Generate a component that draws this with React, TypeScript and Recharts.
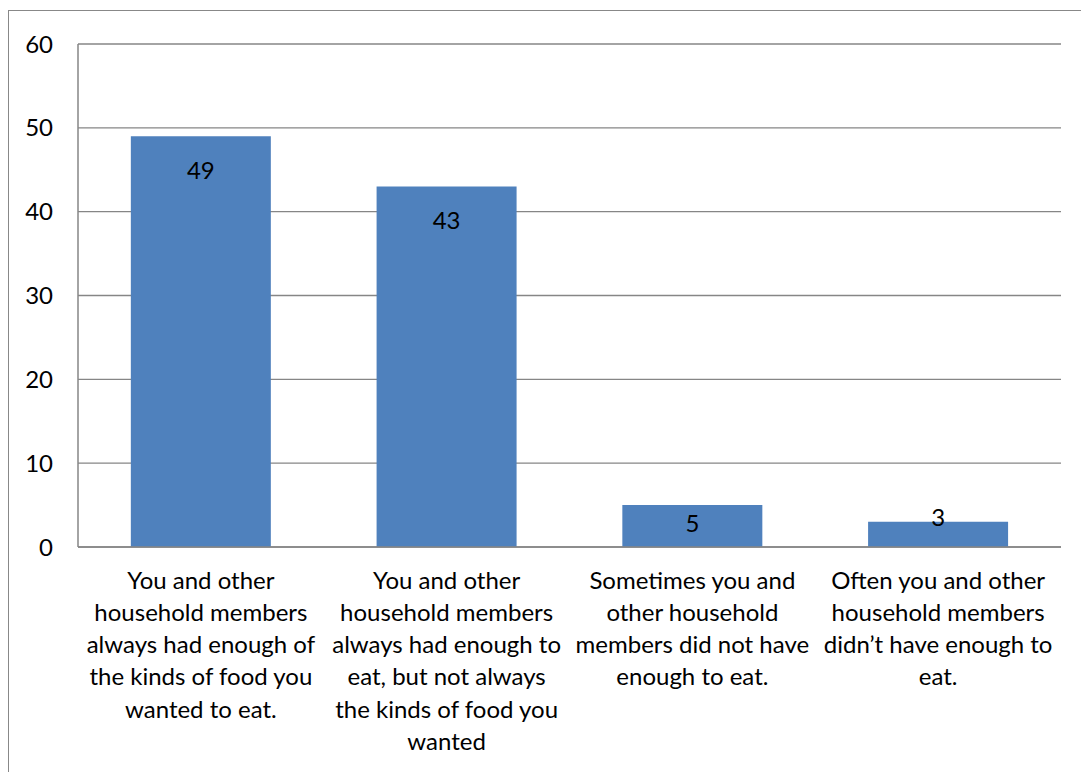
import React from "react";
import { BarChart, Bar, XAxis, YAxis, CartesianGrid, LabelList } from "recharts";

const categories = [
  "You and other household members always had enough of the kinds of food you wanted to eat.",
  "You and other household members always had enough to eat, but not always the kinds of food you wanted",
  "Sometimes you and other household members did not have enough to eat.",
  "Often you and other household members didn’t have enough to eat.",
];
const categoryLines = [
  ["You and other", "household members", "always had enough of", "the kinds of food you", "wanted to eat."],
  ["You and other", "household members", "always had enough to", "eat, but not always", "the kinds of food you", "wanted"],
  ["Sometimes you and", "other household", "members did not have", "enough to eat."],
  ["Often you and other", "household members", "didn’t have enough to", "eat."],
];
const values = [49, 43, 5, 3];
const yTicks = [0, 10, 20, 30, 40, 50, 60];

const data = categories.map((c, i) => ({ name: c, value: values[i], idx: i }));

const FONT = "Lato, 'Liberation Sans', sans-serif";
const FS = 24;
const GRID = "#868686";

const CatTick = (props: any) => {
  const { x, y, payload } = props;
  const lines = categoryLines[payload.index] || [payload.value];
  return (
    <g>
      {lines.map((l: string, i: number) => (
        <text
          key={i}
          x={x}
          y={y + 24 + i * 32.3}
          textAnchor="middle"
          dominantBaseline="central"
          fontFamily={FONT}
          fontSize={FS}
          fill="#000"
        >
          {l}
        </text>
      ))}
    </g>
  );
};

const ValLabel = (props: any) => {
  const { x, y, width, height, value } = props;
  const cy = height > 60 ? y + 33 : height > 35 ? y + height - 25 : y - 5;
  return (
    <text
      x={x + width / 2}
      y={cy}
      textAnchor="middle"
      dominantBaseline="central"
      fontFamily={FONT}
      fontSize={FS}
      fill="#000"
    >
      {value}
    </text>
  );
};

export default function App() {
  return (
    <div style={{ position: "relative", width: 1081, height: 764, overflow: "hidden", background: "#fff" }}>
      <div
        style={{
          position: "absolute",
          left: 0,
          top: 2,
          width: 2000,
          height: 2000,
          borderLeft: "1.5px solid #888",
          borderTop: "1.5px solid #888",
        }}
      />
      <BarChart
        width={1081}
        height={764}
        data={data}
        margin={{ top: 36, right: 28, left: 0, bottom: 0 }}
        barCategoryGap="21.5%"
        style={{ position: "absolute", left: 0, top: 0 }}
      >
        <CartesianGrid horizontal vertical={false} stroke={GRID} strokeWidth={1.3} />
        <XAxis
          dataKey="name"
          height={225}
          axisLine={{ stroke: GRID, strokeWidth: 1.5 }}
          tickLine={false}
          interval={0}
          tick={<CatTick />}
        />
        <YAxis
          width={70}
          domain={[0, 60]}
          ticks={yTicks}
          axisLine={{ stroke: GRID, strokeWidth: 1.5 }}
          tickLine={false}
          tickSize={6}
          tickMargin={19}
          tick={{ fontFamily: FONT, fontSize: FS, fill: "#000" }}
        />
        <Bar dataKey="value" fill="#4F81BD" isAnimationActive={false}>
          <LabelList dataKey="value" content={<ValLabel />} />
        </Bar>
      </BarChart>
    </div>
  );
}
